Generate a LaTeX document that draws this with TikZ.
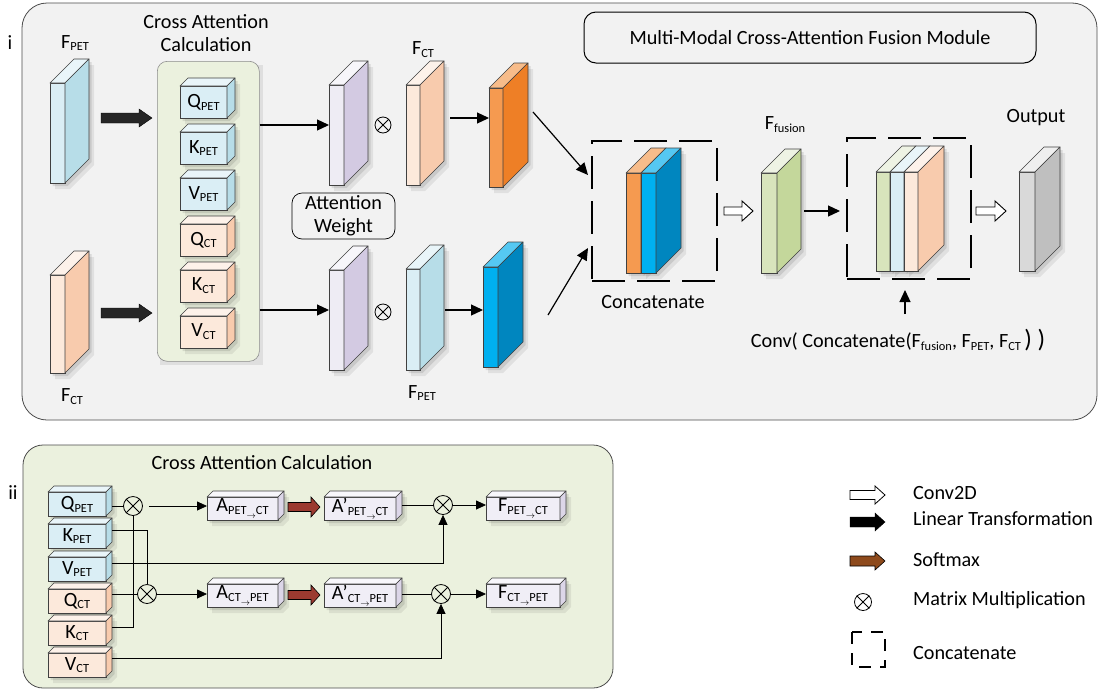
\documentclass[tikz,border=0pt]{standalone}
\usepackage{fontspec}
\setmainfont{Carlito}
\usetikzlibrary{arrows.meta,calc}

\definecolor{panelbg}{HTML}{F2F2F2}
\definecolor{greenbg}{HTML}{EBF1DE}
\definecolor{petF}{HTML}{DAEEF5}\definecolor{petS}{HTML}{B7DDE8}\definecolor{petT}{HTML}{E9F5F9}
\definecolor{ctF}{HTML}{FCE9DB}\definecolor{ctS}{HTML}{F8CBAD}\definecolor{ctT}{HTML}{FDF2EA}
\definecolor{lavF}{HTML}{EEECF4}\definecolor{lavS}{HTML}{D3CAE2}\definecolor{lavT}{HTML}{F7F6FA}
\definecolor{orF}{HTML}{F59A50}\definecolor{orS}{HTML}{EE7F26}\definecolor{orT}{HTML}{F7BC8A}
\definecolor{bluF}{HTML}{00B0F0}\definecolor{bluS}{HTML}{0086BF}\definecolor{bluT}{HTML}{55C8F2}
\definecolor{grnF}{HTML}{D8E4BC}\definecolor{grnS}{HTML}{C4D79B}\definecolor{grnT}{HTML}{EEF3E4}
\definecolor{gryF}{HTML}{D9D9D9}\definecolor{gryS}{HTML}{BFBFBF}\definecolor{gryT}{HTML}{EFEFEF}
\definecolor{boxF}{HTML}{F0EEF6}\definecolor{boxS}{HTML}{DCD6E8}\definecolor{boxT}{HTML}{F8F7FB}
\definecolor{smred}{HTML}{9B3A30}
\definecolor{smbrown}{HTML}{8E4A1C}

\newcommand\fsz{\fontsize{20.2}{23}\selectfont}
\newcommand\subt[1]{\raisebox{-0.3ex}{\fontsize{12.4}{12.4}\selectfont #1}}
\newcommand\toarr{\raisebox{-0.7ex}{\fontsize{9}{9}\selectfont$\rightarrow$}}

% name, x, y, w, h, depth, front, side, top
\newcommand\slab[9]{%
  \fill[black, opacity=0.07] (#2+5,#3+6) -- ++(#6,-#6) -- ++(#4,0) -- ++(0,#5) -- ++(-#6,#6) -- ++(-#4,0) -- cycle;
  \fill[black, opacity=0.10] (#2+2.5,#3+3) -- ++(#6,-#6) -- ++(#4,0) -- ++(0,#5) -- ++(-#6,#6) -- ++(-#4,0) -- cycle;
  \node[slabface, fill=#7, minimum width=#4, minimum height=#5, anchor=north west] (#1) at (#2,#3) {};
  \filldraw[slabline, fill=#9] (#1.north west) -- ++(#6,-#6) -- ++(#4,0) -- (#1.north east) -- cycle;
  \filldraw[slabline, fill=#8] (#1.north east) -- ++(#6,-#6) -- ++(0,#5) -- (#1.south east) -- cycle;
}
% style, x1, x2, y, body half, head half, head length
\newcommand\fatarr[7]{%
  \filldraw[#1] (#2,#4-#5) -- (#3-#7,#4-#5) -- (#3-#7,#4-#6) -- (#3,#4) -- (#3-#7,#4+#6) -- (#3-#7,#4+#5) -- (#2,#4+#5) -- cycle;
}
% name, x, y, diameter
\newcommand\otm[4]{%
  \node[circle, draw, line width=0.8pt, minimum size=#4] (#1) at (#2,#3) {};
  \draw[line width=0.8pt] (#1.north west) -- (#1.south east) (#1.north east) -- (#1.south west);
}

\begin{document}
\begin{tikzpicture}[x=1pt,y=-1pt,
  every node/.style={font=\fsz, inner sep=0pt},
  slabface/.style={draw=black!75, line width=0.6pt, inner sep=0pt, outer sep=0pt},
  slabline/.style={draw=black!75, line width=0.6pt, line join=round},
  arr/.style={line width=1.2pt, -{Triangle[length=12pt,width=11pt]}},
  tarr/.style={line width=0.8pt, -{Triangle[length=10pt,width=9pt]}},
  ln/.style={line width=0.8pt},
  dashbox/.style={draw, line width=2.3pt, dash pattern=on 33pt off 12pt, inner sep=0pt, outer sep=0pt},
]
\useasboundingbox (0,0) rectangle (1099,691);
\fill[white] (0,0) rectangle (1099,691);

% ---------------- panel i ----------------
\draw[draw=black!70, line width=0.8pt, fill=panelbg, rounded corners=25pt] (22,3) rectangle (1097,420);
\node (lbli) at (10,43) {i};

\node (lfpet) at (75,43) {F\subt{PET}};
\slab{fpet}{50}{83}{15}{100}{24}{petF}{petS}{petT}
\slab{fct}{50}{275}{15}{98}{24}{ctF}{ctS}{ctT}
\node (lfct) at (72,397) {F\subt{CT}};

\fatarr{fill=black!85, draw=black}{101}{152}{118}{5}{9}{13}
\fatarr{fill=black!85, draw=black}{101}{152}{313}{5}{9}{13}

\node[align=center] (lcac) at (206,33.5) {Cross Attention\\Calculation};
\fill[black, opacity=0.08] (160,65) rectangle (263,365);
\node[draw=black!45, line width=0.6pt, fill=greenbg, rounded corners=10pt, minimum width=102, minimum height=300, anchor=north west] (cac) at (157,61) {};

\slab{qp}{180}{86}{47}{32}{8}{petF}{petS}{petT}
\slab{kp}{180}{132}{47}{32}{8}{petF}{petS}{petT}
\slab{vp}{180}{178}{47}{32}{8}{petF}{petS}{petT}
\slab{qc}{180}{224}{47}{32}{8}{ctF}{ctS}{ctT}
\slab{kc}{180}{270}{47}{32}{8}{ctF}{ctS}{ctT}
\slab{vc}{180}{316}{47}{32}{8}{ctF}{ctS}{ctT}
\node at (qp) {Q\subt{PET}};
\node at (kp) {K\subt{PET}};
\node at (vp) {V\subt{PET}};
\node at (qc) {Q\subt{CT}};
\node at (kc) {K\subt{CT}};
\node at (vc) {V\subt{CT}};

\slab{attA}{329}{85}{15}{100}{24}{lavF}{lavS}{lavT}
\slab{attB}{329}{270}{15}{100}{24}{lavF}{lavS}{lavT}
\draw[arr] (cac.east |- 0,125) -- (attA.west |- 0,125);
\draw[arr] (cac.east |- 0,310) -- (attB.west |- 0,310);

\node[draw, line width=0.7pt, rounded corners=10pt, minimum width=103, minimum height=46, align=center] (attw) at (343.5,216) {Attention\\Weight};

\otm{mA}{383}{125}{16}
\otm{mB}{383}{312}{16}

\node (lfct2) at (423,50) {F\subt{CT}};
\slab{fct2}{406}{85}{14}{100}{24}{ctF}{ctS}{ctT}
\slab{fpet2}{406}{269}{14}{101}{24}{petF}{petS}{petT}
\node (lfpet2) at (422,393) {F\subt{PET}};

\slab{orA}{489}{88}{14}{99}{25}{orF}{orS}{orT}
\slab{blB}{483}{267}{15}{100}{25}{bluF}{bluS}{bluT}
\draw[arr] ($(fct2.east |- 0,118)+(30,0)$) -- (orA.west |- 0,118);
\draw[arr] ($(fpet2.east |- 0,310)+(25,0)$) -- (blB.west |- 0,310);

\node[dashbox, minimum width=125, minimum height=140, anchor=north west] (cat1) at (592,141) {};
\slab{c1o}{626}{173}{15}{100}{25}{orF}{orS}{orT}
\slab{c1b}{641}{173}{15}{100}{25}{bluF}{bluS}{bluT}
\node (lcat) at (653,302) {Concatenate};
\draw[arr] ($(orA.north east)+(30,24)$) -- ($(cat1.north west)+(-4,34)$);
\draw[arr] ($(blB.north east)+(50,48)$) -- ($(cat1.north west)+(-4,107)$);

\fatarr{fill=white, draw=black, line width=0.9pt}{724}{753}{211}{4}{10}{11}

\node (lfus) at (785,125) {F\subt{fusion}};
\slab{fus}{761}{173}{16}{100}{24}{grnF}{grnS}{grnT}

\node[dashbox, minimum width=124, minimum height=141, anchor=north west] (cat2) at (847,138) {};
\draw[arr] ($(fus.east |- 0,211)+(27,0)$) -- ($(cat2.west |- 0,211)+(-7,0)$);
\slab{c2g}{876}{172}{14}{99}{26}{grnF}{grnS}{grnT}
\slab{c2b}{890}{172}{14}{99}{26}{petF}{petS}{petT}
\slab{c2p}{904}{172}{14}{99}{26}{ctF}{ctS}{ctT}

\node (conv) at (898,340) {Conv( Concatenate(F\subt{fusion}, F\subt{PET}, F\subt{CT}\,{\fontsize{25}{25}\selectfont) )}};
\draw[arr] (905,314) -- (905,290);

\fatarr{fill=white, draw=black, line width=0.9pt}{976}{1006}{211}{4}{10}{11}

\node (lout) at (1036,118) {Output};
\slab{outp}{1019}{172}{16}{99}{25}{gryF}{gryS}{gryT}

\node[draw, line width=1pt, rounded corners=12pt, minimum width=452, minimum height=51] (title) at (810,37.5) {Multi-Modal Cross-Attention Fusion Module};

% ---------------- panel ii ----------------
\draw[draw=black!70, line width=0.8pt, fill=greenbg, rounded corners=20pt] (23,445) rectangle (613,688);
\node (lblii) at (13,493) {ii};
\node (lcac2) at (262,463) {Cross Attention Calculation};

\slab{q1}{48}{492}{58}{24}{6}{petF}{petS}{petT}
\slab{k1}{48}{524}{58}{24}{6}{petF}{petS}{petT}
\slab{v1}{48}{557}{58}{24}{6}{petF}{petS}{petT}
\slab{q2}{48}{589}{58}{24}{6}{ctF}{ctS}{ctT}
\slab{k2}{48}{621}{58}{24}{6}{ctF}{ctS}{ctT}
\slab{v2}{48}{653}{58}{24}{6}{ctF}{ctS}{ctT}
\node at (q1) {Q\subt{PET}};
\node at (k1) {K\subt{PET}};
\node at (v1) {V\subt{PET}};
\node at (q2) {Q\subt{CT}};
\node at (k2) {K\subt{CT}};
\node at (v2) {V\subt{CT}};

\otm{m1}{133}{506}{19}
\otm{m2}{147}{594}{19}
\otm{m3}{443}{505}{19}
\otm{m4}{441}{594}{19}

\draw[ln] ($(q1.east |- m1.west)+(6,0)$) -- (m1.west);
\draw[ln] ($(k2.east)+(6,-6)$) -| (m1.south);
\draw[ln] ($(k1.east)+(6,-6)$) -| (m2.north);
\draw[ln] ($(q2.east |- m2.west)+(6,0)$) -- (m2.west);
\draw[tarr] ($(v1.east)+(6,-6)$) -| (m3.south);
\draw[tarr] ($(v2.east)+(6,-7)$) -| (m4.south);

\slab{a1}{207}{497}{71}{23}{6}{boxF}{boxS}{boxT}
\slab{a2}{207}{584}{71}{23}{6}{boxF}{boxS}{boxT}
\slab{ap1}{324}{497}{72}{23}{6}{boxF}{boxS}{boxT}
\slab{ap2}{324}{584}{72}{23}{6}{boxF}{boxS}{boxT}
\slab{f1}{486}{497}{74}{23}{6}{boxF}{boxS}{boxT}
\slab{f2}{486}{584}{74}{23}{6}{boxF}{boxS}{boxT}
\node at (a1) {A\subt{PET\toarr CT}};
\node at (a2) {A\subt{CT\toarr PET}};
\node at (ap1) {A’\subt{PET\toarr CT}};
\node at (ap2) {A’\subt{CT\toarr PET}};
\node at (f1) {F\subt{PET\toarr CT}};
\node at (f2) {F\subt{CT\toarr PET}};

\draw[tarr] ($(m1.east)+(6,0)$) -- (a1.west |- m1.east);
\draw[tarr] (m2.east) -- (a2.west |- m2.east);
\fatarr{fill=smred, draw=black, line width=0.6pt}{288}{320}{507}{4.5}{10}{9}
\fatarr{fill=smred, draw=black, line width=0.6pt}{288}{320}{595}{4.5}{10}{9}
\draw[ln] ($(ap1.east |- m3.west)+(6,0)$) -- (m3.west);
\draw[ln] ($(ap2.east |- m4.west)+(6,0)$) -- (m4.west);
\draw[tarr] (m3.east) -- (f1.west |- m3.east);
\draw[tarr] (m4.east) -- (f2.west |- m4.east);

% ---------------- legend ----------------
\fatarr{fill=white, draw=black, line width=0.8pt}{850}{885}{495}{4.5}{9}{10}
\fatarr{fill=black, draw=black}{850}{885}{522}{5}{9}{10}
\fatarr{fill=smbrown, draw=black, line width=0.6pt}{850}{885}{561}{5}{9}{10}
\otm{lm}{863}{602}{17}
\draw[line width=2pt, dash pattern=on 12pt off 9pt] (852,632) rectangle (885,667);
\node[anchor=west] (lg1) at (913,493) {Conv2D};
\node[anchor=west] (lg2) at (913,519) {Linear Transformation};
\node[anchor=west] (lg3) at (913,560) {Softmax};
\node[anchor=west] (lg4) at (913,600) {Matrix Multiplication};
\node[anchor=west] (lg5) at (913,653) {Concatenate};
\end{tikzpicture}
\end{document}
